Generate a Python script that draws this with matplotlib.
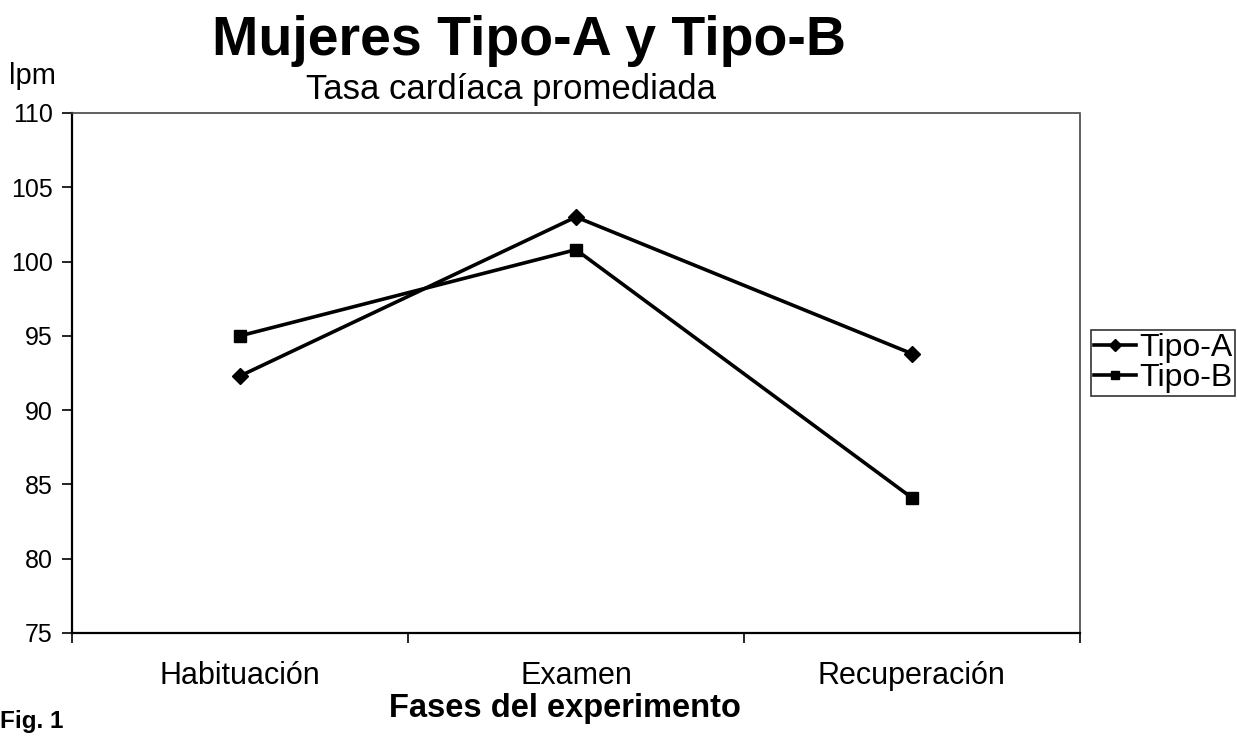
import matplotlib
matplotlib.use("Agg")
import matplotlib.pyplot as plt
from matplotlib.ticker import FixedLocator, NullFormatter

plt.rcParams['font.family'] = ['Liberation Sans', 'DejaVu Sans']

categories = ["Habituación", "Examen", "Recuperación"]
tipo_a = [92.3, 103.0, 93.8]
tipo_b = [95.0, 100.8, 84.1]
series_labels = ["Tipo-A", "Tipo-B"]
y_ticks = [75, 80, 85, 90, 95, 100, 105, 110]

fig = plt.figure(figsize=(12.37, 7.40), dpi=100)
ax = fig.add_axes([0.0582, 0.1446, 0.8148, 0.7027])

x = list(range(len(categories)))
ax.plot(x, tipo_a, color="black", lw=2.6, marker="D", markersize=8.5, label=series_labels[0])
ax.plot(x, tipo_b, color="black", lw=2.6, marker="s", markersize=8.5, label=series_labels[1])

ax.set_xlim(-0.5, len(categories) - 0.5)
ax.set_ylim(75, 110)
ax.set_yticks(y_ticks)
ax.tick_params(axis='y', labelsize=18, length=7, width=1.2, direction='out', pad=7)

ax.xaxis.set_major_locator(FixedLocator([i - 0.5 for i in range(len(categories) + 1)]))
ax.xaxis.set_major_formatter(NullFormatter())
ax.xaxis.set_minor_locator(FixedLocator(x))
ax.set_xticklabels(categories, minor=True)
ax.tick_params(axis='x', which='major', length=7, width=1.2, direction='out')
ax.tick_params(axis='x', which='minor', length=0, labelsize=22, pad=20)

for s in ['left', 'bottom']:
    ax.spines[s].set_linewidth(1.6)
    ax.spines[s].set_color('black')
for s in ['top', 'right']:
    ax.spines[s].set_linewidth(1.2)
    ax.spines[s].set_color('#444444')
    ax.spines[s].set_linestyle((0, (1, 1)))

fig.text(0.428, 0.945, "Mujeres Tipo-A y Tipo-B", ha='center', va='center',
         fontsize=40, fontweight='bold')
fig.text(0.413, 0.879, "Tasa cardíaca promediada", ha='center', va='center', fontsize=25)
fig.text(0.007, 0.897, "lpm", ha='left', va='center', fontsize=21)
fig.text(0.457, 0.043, "Fases del experimento", ha='center', va='center',
         fontsize=23.5, fontweight='bold')
fig.text(0.0, 0.025, "Fig. 1", ha='left', va='center', fontsize=17.5, fontweight='bold')

leg = fig.legend(loc='upper left', bbox_to_anchor=(0.882, 0.554), frameon=True,
                 fancybox=False, fontsize=23, handlelength=1.3, handletextpad=0.1,
                 borderpad=0.1, labelspacing=0.0, borderaxespad=0, markerscale=0.75)
leg.get_frame().set_edgecolor('black')
leg.get_frame().set_linewidth(1.2)

fig.savefig("out.png", dpi=100)
